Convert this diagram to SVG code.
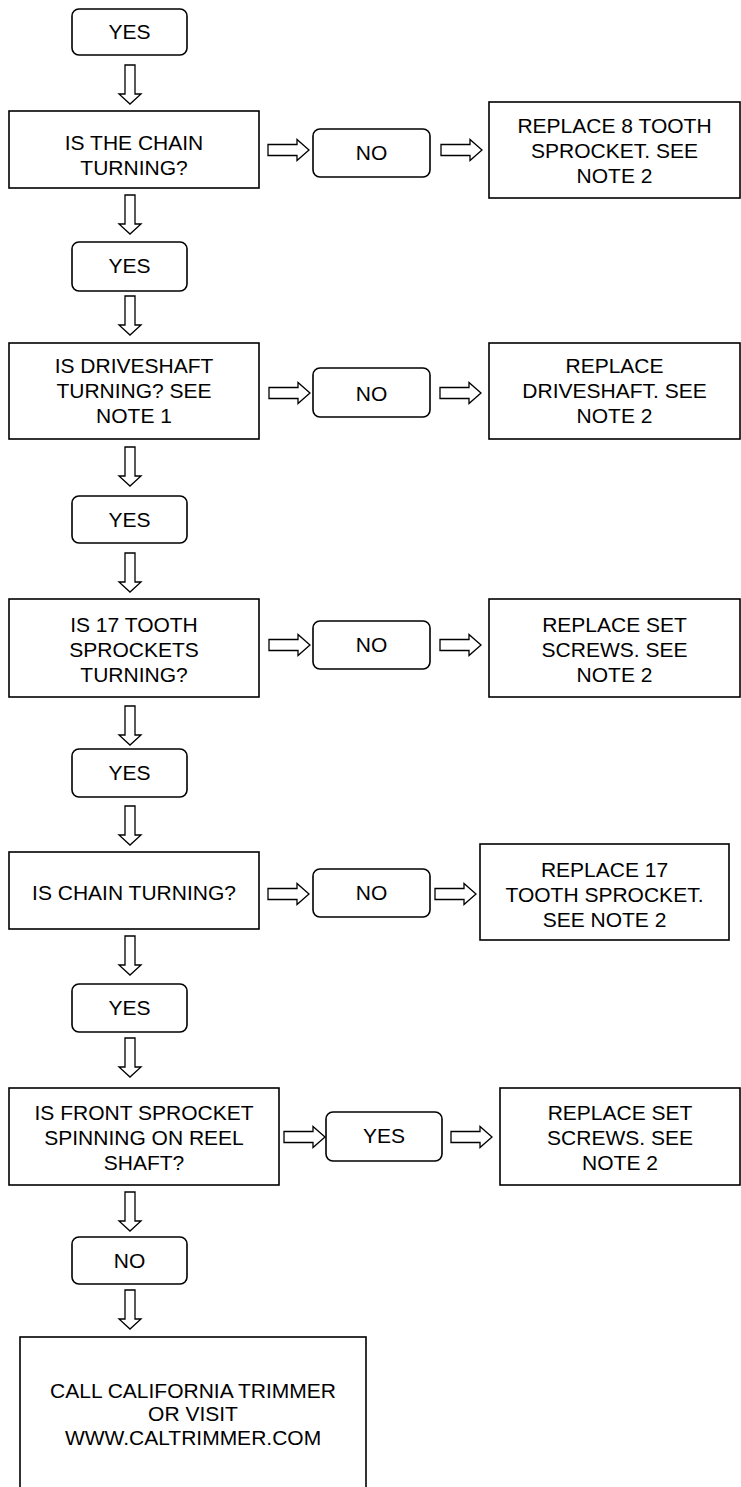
<svg xmlns="http://www.w3.org/2000/svg" xmlns:xlink="http://www.w3.org/1999/xlink" width="741" height="1487" viewBox="0 0 741 1487">
<style>
.box{fill:#fff;stroke:#000;stroke-width:1.6}
.t{font-family:"Liberation Sans",Arial,sans-serif;font-size:21px;fill:#000;text-anchor:middle}
.arr{fill:#fff;stroke:#000;stroke-width:1.3;stroke-linejoin:miter}
</style>
<defs>
<path id="down" class="arr" d="M-5,0 H5 V29 H11 L0,39 L-11,29 H-5 Z"/>
<path id="right" class="arr" d="M0,-5.5 H29 V-10.5 L41,0 L29,10.5 V5.5 H0 Z"/>
</defs>
<rect width="741" height="1487" fill="#fff"/>
<g id="connectors">
<use xlink:href="#down" href="#down" x="130" y="65"/>
<use xlink:href="#down" href="#down" x="130" y="195"/>
<use xlink:href="#down" href="#down" x="130" y="296"/>
<use xlink:href="#down" href="#down" x="130" y="447"/>
<use xlink:href="#down" href="#down" x="130" y="553"/>
<use xlink:href="#down" href="#down" x="130" y="706"/>
<use xlink:href="#down" href="#down" x="130" y="806"/>
<use xlink:href="#down" href="#down" x="130" y="936"/>
<use xlink:href="#down" href="#down" x="130" y="1038"/>
<use xlink:href="#down" href="#down" x="130" y="1192"/>
<use xlink:href="#down" href="#down" x="130" y="1290"/>
<use xlink:href="#right" href="#right" x="268" y="150"/>
<use xlink:href="#right" href="#right" x="441" y="150"/>
<use xlink:href="#right" href="#right" x="269" y="393"/>
<use xlink:href="#right" href="#right" x="440" y="393"/>
<use xlink:href="#right" href="#right" x="269" y="645"/>
<use xlink:href="#right" href="#right" x="440" y="645"/>
<use xlink:href="#right" href="#right" x="268" y="894"/>
<use xlink:href="#right" href="#right" x="435" y="894"/>
<use xlink:href="#right" href="#right" x="284" y="1137"/>
<use xlink:href="#right" href="#right" x="451" y="1137"/>
</g>
<g id="yes1"><rect class="box" x="72" y="9" width="115" height="46" rx="7"/><text class="t" x="129.5" y="39">YES</text></g>
<g id="q1"><rect class="box" x="9" y="111" width="250" height="77"/><text class="t" x="134" y="150">IS THE CHAIN</text><text class="t" x="134" y="175">TURNING?</text></g>
<g id="no1"><rect class="box" x="313" y="129" width="117" height="48" rx="7"/><text class="t" x="371.5" y="160">NO</text></g>
<g id="r1"><rect class="box" x="489" y="102" width="251" height="96"/><text class="t" x="614.5" y="133">REPLACE 8 TOOTH</text><text class="t" x="614.5" y="158">SPROCKET. SEE</text><text class="t" x="614.5" y="183">NOTE 2</text></g>
<g id="yes2"><rect class="box" x="72" y="242" width="115" height="49" rx="7"/><text class="t" x="129.5" y="273">YES</text></g>
<g id="q2"><rect class="box" x="9" y="343" width="250" height="96"/><text class="t" x="134" y="373">IS DRIVESHAFT</text><text class="t" x="134" y="398">TURNING? SEE</text><text class="t" x="134" y="423">NOTE 1</text></g>
<g id="no2"><rect class="box" x="313" y="368" width="117" height="49" rx="7"/><text class="t" x="371.5" y="401">NO</text></g>
<g id="r2"><rect class="box" x="489" y="343" width="251" height="96"/><text class="t" x="614.5" y="373">REPLACE</text><text class="t" x="614.5" y="398">DRIVESHAFT. SEE</text><text class="t" x="614.5" y="423">NOTE 2</text></g>
<g id="yes3"><rect class="box" x="72" y="496" width="115" height="47" rx="7"/><text class="t" x="129.5" y="527">YES</text></g>
<g id="q3"><rect class="box" x="9" y="599" width="250" height="98"/><text class="t" x="134" y="632">IS 17 TOOTH</text><text class="t" x="134" y="657">SPROCKETS</text><text class="t" x="134" y="682">TURNING?</text></g>
<g id="no3"><rect class="box" x="313" y="621" width="117" height="48" rx="7"/><text class="t" x="371.5" y="652">NO</text></g>
<g id="r3"><rect class="box" x="489" y="599" width="251" height="98"/><text class="t" x="614.5" y="632">REPLACE SET</text><text class="t" x="614.5" y="657">SCREWS. SEE</text><text class="t" x="614.5" y="682">NOTE 2</text></g>
<g id="yes4"><rect class="box" x="72" y="749" width="115" height="48" rx="7"/><text class="t" x="129.5" y="780">YES</text></g>
<g id="q4"><rect class="box" x="9" y="852" width="250" height="77"/><text class="t" x="134" y="900">IS CHAIN TURNING?</text></g>
<g id="no4"><rect class="box" x="313" y="869" width="117" height="48" rx="7"/><text class="t" x="371.5" y="900">NO</text></g>
<g id="r4"><rect class="box" x="480" y="844" width="249" height="96"/><text class="t" x="604.5" y="877">REPLACE 17</text><text class="t" x="604.5" y="902">TOOTH SPROCKET.</text><text class="t" x="604.5" y="927">SEE NOTE 2</text></g>
<g id="yes5"><rect class="box" x="72" y="984" width="115" height="48" rx="7"/><text class="t" x="129.5" y="1015">YES</text></g>
<g id="q5"><rect class="box" x="9" y="1088" width="270" height="97"/><text class="t" x="144" y="1120">IS FRONT SPROCKET</text><text class="t" x="144" y="1145">SPINNING ON REEL</text><text class="t" x="144" y="1170">SHAFT?</text></g>
<g id="yes6"><rect class="box" x="326" y="1112" width="116" height="49" rx="7"/><text class="t" x="384" y="1143">YES</text></g>
<g id="r5"><rect class="box" x="500" y="1088" width="240" height="97"/><text class="t" x="620" y="1120">REPLACE SET</text><text class="t" x="620" y="1145">SCREWS. SEE</text><text class="t" x="620" y="1170">NOTE 2</text></g>
<g id="no5"><rect class="box" x="72" y="1237" width="115" height="47" rx="7"/><text class="t" x="129.5" y="1268">NO</text></g>
<g id="final"><rect class="box" x="20" y="1337" width="346" height="200"/><text class="t" x="193" y="1398">CALL CALIFORNIA TRIMMER</text><text class="t" x="193" y="1421">OR VISIT</text><text class="t" x="193" y="1445">WWW.CALTRIMMER.COM</text></g>
</svg>
